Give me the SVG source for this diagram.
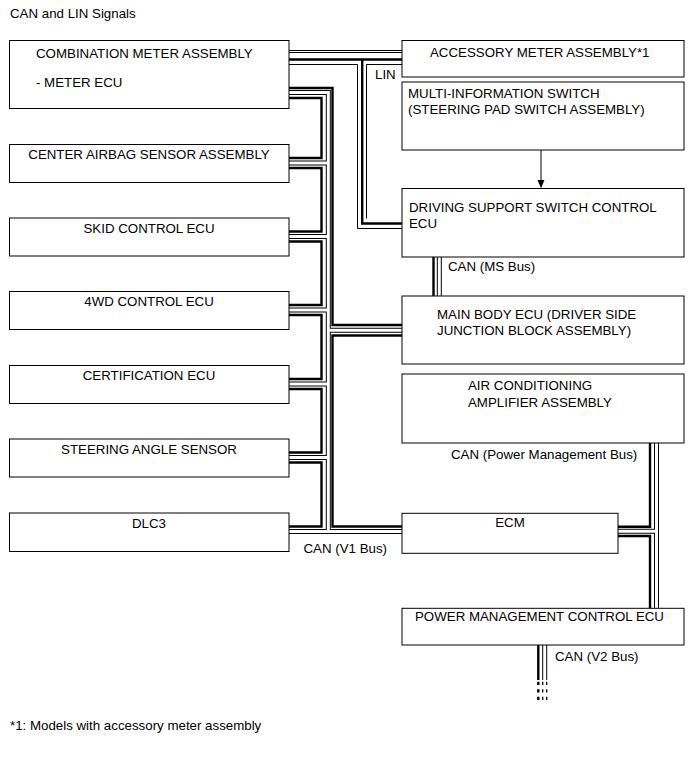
<svg xmlns="http://www.w3.org/2000/svg" width="691" height="757" viewBox="0 0 691 757">
<style>
.box{fill:#fff;stroke:#000;stroke-width:1}
.t{font-family:"Liberation Sans",Arial,sans-serif;font-size:13.3px;fill:#000}
.m{text-anchor:middle}
.b{fill:none;stroke:#000;stroke-width:2.4}
.wo{fill:none;stroke:#000;stroke-width:5}
.wi{fill:none;stroke:#fff;stroke-width:3}
.th{fill:none;stroke:#000;stroke-width:1}
.d{stroke-dasharray:3.3 4.2}
</style>
<rect width="691" height="757" fill="#fff"/>
<text class="t" x="10" y="18">CAN and LIN Signals</text>
<g id="connectors">
  <!-- LIN -->
  <path class="th" d="M289 50.5 H402 M289 52.5 H402"/>
  <path class="th" d="M289 64.5 H357.5 V228.5 H402"/>
  <path class="th" d="M366.5 218.5 V64.5 H402"/>
  <path class="b" d="M289 59.5 H402 M362.2 59.5 V223.5 H402"/>
  <!-- V1 black wires -->
  <path class="b" d="M289 88 H332.5 V325 H402"/>
  <path class="b" d="M402 335.5 H332.5 V526.5 H402"/>
  <path class="b" d="M289 98 H321.5 V158 H289"/>
  <path class="b" d="M289 168 H321.5 V231.5 H289"/>
  <path class="b" d="M289 241.5 H321.5 V305 H289"/>
  <path class="b" d="M289 315 H321.5 V379 H289"/>
  <path class="b" d="M289 389 H321.5 V452.5 H289"/>
  <path class="b" d="M289 462.5 H321.5 V526.5 H289"/>
  <!-- MS bus black -->
  <path class="b" d="M433.5 257 V296"/>
  <!-- Power management bus black -->
  <path class="b" d="M650 443 V526.7 H618"/>
  <path class="b" d="M618 536 H650 V608"/>
  <!-- V2 black -->
  <path class="b" d="M538.3 645 V680"/>
  <path class="b d" d="M538.3 681.7 V700"/>
  <path class="th d" d="M542.7 681.7 V700 M546.7 681.7 V700" style="stroke-width:1.3"/>
  <!-- white wires outer -->
  <path class="wo" d="M289 92.5 H328.3 V531.5 M289 531.5 H402 M289 163 H328.3 M289 236.5 H328.3 M289 310 H328.3 M289 384 H328.3 M289 457.5 H328.3 M328.3 330.2 H402 M439.3 257 V296 M656.5 443 V608 M618 531.3 H656.5 M544.7 645 V680"/>
  <path class="wi" d="M289 92.5 H328.3 V531.5 M289 531.5 H402 M289 163 H328.3 M289 236.5 H328.3 M289 310 H328.3 M289 384 H328.3 M289 457.5 H328.3 M328.3 330.2 H402 M439.3 257 V296 M656.5 443 V608 M618 531.3 H656.5 M544.7 645 V680"/>
  <!-- arrow -->
  <path class="th" d="M541 150 V181"/>
  <polygon points="537.5,180 544.5,180 541,188.3" fill="#000"/>
</g>
<g id="n-meter"><rect class="box" x="9.5" y="40.5" width="279.5" height="68"/>
<text class="t" x="36" y="58">COMBINATION METER ASSEMBLY</text>
<text class="t" x="36" y="86.5">- METER ECU</text></g>
<g id="n-airbag"><rect class="box" x="9.5" y="144.5" width="279.5" height="38"/>
<text class="t m" x="149" y="159">CENTER AIRBAG SENSOR ASSEMBLY</text></g>
<g id="n-skid"><rect class="box" x="9.5" y="218" width="279.5" height="38"/>
<text class="t m" x="149" y="232.5">SKID CONTROL ECU</text></g>
<g id="n-4wd"><rect class="box" x="9.5" y="291.5" width="279.5" height="38"/>
<text class="t m" x="149" y="306">4WD CONTROL ECU</text></g>
<g id="n-cert"><rect class="box" x="9.5" y="365.5" width="279.5" height="38"/>
<text class="t m" x="149" y="380">CERTIFICATION ECU</text></g>
<g id="n-steer"><rect class="box" x="9.5" y="439" width="279.5" height="38"/>
<text class="t m" x="149" y="453.5">STEERING ANGLE SENSOR</text></g>
<g id="n-dlc3"><rect class="box" x="9.5" y="513" width="279.5" height="38.5"/>
<text class="t m" x="149" y="527.5">DLC3</text></g>
<g id="n-acc"><rect class="box" x="402" y="40.5" width="282" height="36.5"/>
<text class="t" x="430" y="57">ACCESSORY METER ASSEMBLY*1</text></g>
<text class="t" x="375" y="79">LIN</text>
<g id="n-multi"><rect class="box" x="402" y="82" width="282" height="68"/>
<text class="t" x="408" y="98">MULTI-INFORMATION SWITCH</text>
<text class="t" x="408" y="114">(STEERING PAD SWITCH ASSEMBLY)</text></g>
<g id="n-dss"><rect class="box" x="402" y="188.5" width="282" height="68.5"/>
<text class="t" x="409" y="211.5">DRIVING SUPPORT SWITCH CONTROL</text>
<text class="t" x="409" y="228">ECU</text></g>
<text class="t" x="448" y="271">CAN (MS Bus)</text>
<g id="n-mbecu"><rect class="box" x="402" y="296" width="282" height="68"/>
<text class="t" x="437" y="319">MAIN BODY ECU (DRIVER SIDE</text>
<text class="t" x="437" y="335">JUNCTION BLOCK ASSEMBLY)</text></g>
<g id="n-ac"><rect class="box" x="402" y="374" width="282" height="69"/>
<text class="t" x="468" y="390">AIR CONDITIONING</text>
<text class="t" x="468" y="407">AMPLIFIER ASSEMBLY</text></g>
<text class="t" x="451" y="459.3">CAN (Power Management Bus)</text>
<g id="n-ecm"><rect class="box" x="402" y="513.3" width="216" height="40"/>
<text class="t m" x="510" y="527">ECM</text></g>
<text class="t" x="303.5" y="553">CAN (V1 Bus)</text>
<g id="n-pmc"><rect class="box" x="402" y="608.3" width="282" height="36.7"/>
<text class="t" x="415" y="621">POWER MANAGEMENT CONTROL ECU</text></g>
<text class="t" x="555" y="661">CAN (V2 Bus)</text>
<text class="t" x="10" y="730">*1: Models with accessory meter assembly</text>
</svg>
